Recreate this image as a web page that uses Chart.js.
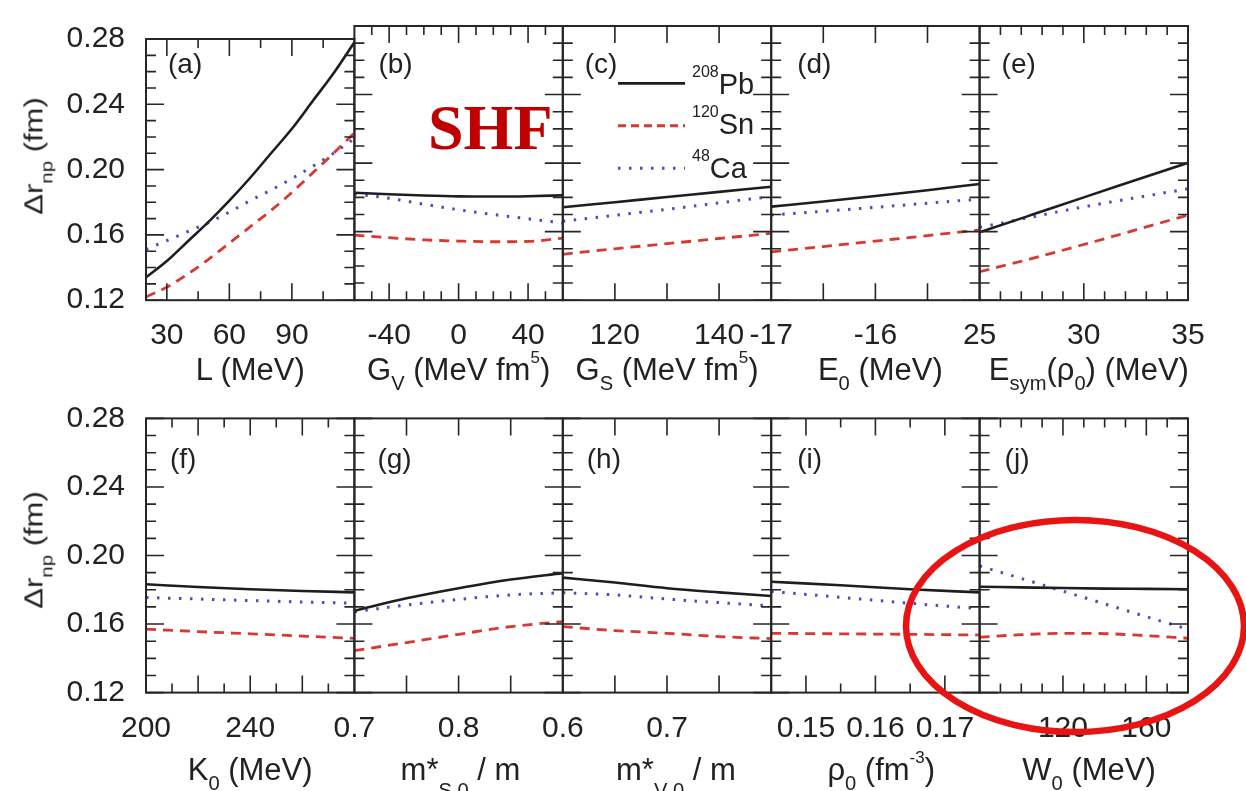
<!DOCTYPE html>
<html>
<head>
<meta charset="utf-8">
<script src="https://cdn.jsdelivr.net/npm/chart.js@4.4.1/dist/chart.umd.min.js"></script>
<style>
body { margin: 0; background: #fff; }
#wrap { position: relative; width: 1246px; height: 791px; overflow: hidden; font-family: "Liberation Sans", Arial, sans-serif; color: #222; }
canvas { position: absolute; left: 0; top: 0; }
.t { position: absolute; white-space: nowrap; font-size: 31px; line-height: 31px; }
.sb { position: relative; top: 0.5em; font-size: 0.65em; }
.sb2 { position: relative; top: 0.85em; font-size: 0.65em; }
.sp { position: relative; top: -1em; font-size: 0.55em; }
.lt { position: absolute; left: 146px; white-space: nowrap; font-size: 28px; line-height: 28px; }
.leg { position: absolute; left: 692px; white-space: nowrap; font-size: 29px; line-height: 29px; }
.leg span { position: relative; top: -17px; font-size: 16px; }
#shf { position: absolute; left: 428px; top: 96px; font-family: "Liberation Serif", "Times New Roman", serif; font-weight: bold; font-size: 64px; line-height: 64px; color: #c00000; }
.yt { position: absolute; white-space: nowrap; font-size: 31px; line-height: 32px; transform: translate(-50%, -50%) rotate(-90deg) scaleY(0.85); }
.yt span { position: relative; top: 0.6em; font-size: 0.66em; }
</style>
</head>
<body>
<div id="wrap">
  <div class="yt" style="left:35px; top:156px;">Δr<span>np</span>&nbsp;(fm)</div>
  <div class="yt" style="left:35px; top:550px;">Δr<span>np</span>&nbsp;(fm)</div>
  <div id="shf">SHF</div>
  <div class="leg" style="top:70px;"><span>208</span>Pb</div>
  <div class="leg" style="top:110px;"><span>120</span>Sn</div>
  <div class="leg" style="top:154px;"><span>48</span>Ca</div>
  <svg width="1246" height="791" style="position:absolute;left:0;top:0;z-index:5;">
    <line x1="618" y1="83.3" x2="685" y2="83.3" stroke="#1e1e1e" stroke-width="2.8"/>
    <line x1="618" y1="125.7" x2="685" y2="125.7" stroke="#d8392f" stroke-width="2.9" stroke-dasharray="8 5"/>
    <line x1="618" y1="168.3" x2="685" y2="168.3" stroke="#4a4fb5" stroke-width="3" stroke-dasharray="2.5 8.5"/>
    <ellipse cx="1075" cy="626" rx="169" ry="106" fill="none" stroke="#e81414" stroke-width="6.5"/>
  </svg>
</div>
<script>
// y axis, same for every panel
const yMin = 0.12, yMax = 0.28;
const yLabels = [0.12, 0.16, 0.20, 0.24, 0.28];
const yMinor = [0.13, 0.14, 0.15, 0.17, 0.18, 0.19, 0.21, 0.22, 0.23, 0.25, 0.26, 0.27];

// (a) L
const xA = [20, 30, 40, 50, 60, 70, 80, 90, 100, 110, 120];
const pbA = [0.134, 0.144, 0.156, 0.168, 0.181, 0.195, 0.210, 0.225, 0.242, 0.259, 0.278];
const snA = [0.122, 0.128, 0.136, 0.145, 0.155, 0.165, 0.175, 0.186, 0.198, 0.210, 0.2225];
const caA = [0.151, 0.1565, 0.162, 0.1675, 0.174, 0.181, 0.1875, 0.1945, 0.202, 0.210, 0.219];
// (b) G_V
const xB = [-60, -40, -20, 0, 20, 40, 60];
const pbB = [0.1827, 0.1818, 0.1811, 0.1806, 0.1805, 0.1807, 0.1812];
const snB = [0.158, 0.1565, 0.1552, 0.1545, 0.1541, 0.1543, 0.1562];
const caB = [0.182, 0.1795, 0.176, 0.1728, 0.170, 0.1675, 0.165];
// (c) G_S
const xC = [110, 120, 130, 140, 150];
const pbC = [0.1742, 0.1772, 0.1802, 0.1832, 0.1862];
const snC = [0.1468, 0.150, 0.153, 0.156, 0.159];
const caC = [0.166, 0.1695, 0.173, 0.1768, 0.1805];
// (d) E0
const xD = [-17, -16.5, -16, -15.5, -15];
const pbD = [0.1746, 0.1776, 0.1808, 0.1842, 0.1878];
const snD = [0.1482, 0.1513, 0.1545, 0.1577, 0.161];
const caD = [0.1697, 0.1719, 0.1742, 0.1766, 0.179];
// (e) Esym
const xE = [25, 27.5, 30, 32.5, 35];
const pbE = [0.1596, 0.1698, 0.180, 0.1901, 0.2002];
const snE = [0.1366, 0.1443, 0.1525, 0.161, 0.1697];
const caE = [0.1625, 0.1685, 0.1745, 0.1798, 0.185];
// (f) K0
const xF = [200, 220, 240, 260, 280];
const pbF = [0.1832, 0.1816, 0.1803, 0.1793, 0.1785];
const snF = [0.157, 0.1556, 0.1543, 0.1530, 0.1517];
const caF = [0.1755, 0.1746, 0.1737, 0.1729, 0.1722];
// (g) m*S0/m
const xG = [0.7, 0.75, 0.8, 0.85, 0.9];
const pbG = [0.1678, 0.175, 0.1809, 0.1860, 0.1897];
const snG = [0.1445, 0.1492, 0.154, 0.1585, 0.1614];
const caG = [0.1672, 0.1711, 0.1744, 0.1770, 0.1783];
// (h) m*V0/m
const xH = [0.6, 0.65, 0.7, 0.75, 0.8];
const pbH = [0.1871, 0.1842, 0.1809, 0.1785, 0.1764];
const snH = [0.1585, 0.1562, 0.1546, 0.1527, 0.1515];
const caH = [0.1783, 0.177, 0.1746, 0.1725, 0.1706];
// (i) rho0
const xI = [0.145, 0.155, 0.165, 0.175];
const pbI = [0.1847, 0.1826, 0.1803, 0.1785];
const snI = [0.1546, 0.1543, 0.154, 0.1536];
const caI = [0.179, 0.1756, 0.1721, 0.169];
// (j) W0
const xJ = [80, 100, 120, 140, 160, 180];
const pbJ = [0.1818, 0.1814, 0.1810, 0.1807, 0.1805, 0.1803];
const snJ = [0.1523, 0.1538, 0.1546, 0.1544, 0.1532, 0.1517];
const caJ = [0.1939, 0.1866, 0.1792, 0.1718, 0.1643, 0.157];

// x tick labels and tick marks
const labA = [30, 60, 90], majA = [30, 60, 90], minA = [45, 75, 105];
const labB = [-40, 0, 40], majB = [-40, 0, 40], minB = [-50, -30, -20, -10, 10, 20, 30, 50];
const labC = [120, 140], majC = [120, 130, 140], minC = [];
const labD = [-17, -16], majD = [-16.5, -16, -15.5], minD = [];
const labE = [25, 30, 35], majE = [30], minE = [26, 27, 28, 29, 31, 32, 33, 34];
const labF = [200, 240], majF = [220, 240, 260], minF = [210, 230, 250, 270];
const labG = [0.7, 0.8], majG = [0.75, 0.8, 0.85], minG = [];
const labH = [0.6, 0.7], majH = [0.65, 0.7, 0.75], minH = [];
const labI = [0.15, 0.16, 0.17], majI = [0.15, 0.16, 0.17], minI = [0.155, 0.165];
const labJ = [120, 160], majJ = [120, 160], minJ = [90, 100, 110, 130, 140, 150, 170];

const titles = [
  'L (MeV)', 'G<span class="sb">V</span> (MeV fm<span class="sp">5</span>)',
  'G<span class="sb">S</span> (MeV fm<span class="sp">5</span>)', 'E<span class="sb">0</span> (MeV)',
  'E<span class="sb">sym</span>(ρ<span class="sb">0</span>) (MeV)',
  'K<span class="sb">0</span> (MeV)', 'm*<span class="sb2">S 0</span> / m', 'm*<span class="sb2">V 0</span> / m',
  'ρ<span class="sb">0</span> (fm<span class="sp">-3</span>)', 'W<span class="sb">0</span> (MeV)'
];
const letters = ['(a)', '(b)', '(c)', '(d)', '(e)', '(f)', '(g)', '(h)', '(i)', '(j)'];

const panels = [
  { x: xA, pb: pbA, sn: snA, ca: caA, min: 20, max: 120, lab: labA, maj: majA, mn: minA },
  { x: xB, pb: pbB, sn: snB, ca: caB, min: -60, max: 60, lab: labB, maj: majB, mn: minB },
  { x: xC, pb: pbC, sn: snC, ca: caC, min: 110, max: 150, lab: labC, maj: majC, mn: minC },
  { x: xD, pb: pbD, sn: snD, ca: caD, min: -17, max: -15, lab: labD, maj: majD, mn: minD },
  { x: xE, pb: pbE, sn: snE, ca: caE, min: 25, max: 35, lab: labE, maj: majE, mn: minE },
  { x: xF, pb: pbF, sn: snF, ca: caF, min: 200, max: 280, lab: labF, maj: majF, mn: minF },
  { x: xG, pb: pbG, sn: snG, ca: caG, min: 0.7, max: 0.9, lab: labG, maj: majG, mn: minG },
  { x: xH, pb: pbH, sn: snH, ca: caH, min: 0.6, max: 0.8, lab: labH, maj: majH, mn: minH },
  { x: xI, pb: pbI, sn: snI, ca: caI, min: 0.145, max: 0.175, lab: labI, maj: majI, mn: minI },
  { x: xJ, pb: pbJ, sn: snJ, ca: caJ, min: 80, max: 180, lab: labJ, maj: majJ, mn: minJ }
];

// page layout
const W = 1246, H = 791;
const PW = 208.4, PH = 274.2;
const colLeft = [146, 354.4, 562.8, 771.2, 979.6];
const rowTop = [26, 418.4];
const titleBase = [380, 780], letterBase = [74, 469];
const titleShift = [0, 0, 0, 5, 5, 0, 2, 9, 6, 5];
const letterShift = [22, 24, 22, 26, 22, 24, 23, 24, 26, 25];
const FONT = "'Liberation Sans', Arial, sans-serif";

// inward ticks on all four sides, plus the frame
const framePlugin = {
  id: 'frame',
  afterDraw(chart, args, o) {
    const { ctx, chartArea: a, scales } = chart;
    const sx = scales.x, sy = scales.y;
    ctx.save();
    ctx.strokeStyle = '#262626';
    ctx.lineWidth = 1.6;
    ctx.beginPath();
    const xt = (vals, len) => vals.forEach(v => {
      const px = sx.getPixelForValue(v);
      ctx.moveTo(px, a.bottom); ctx.lineTo(px, a.bottom - len);
      ctx.moveTo(px, a.top); ctx.lineTo(px, a.top + len);
    });
    const yt = (vals, len) => vals.forEach(v => {
      const py = sy.getPixelForValue(v);
      ctx.moveTo(a.left, py); ctx.lineTo(a.left + len, py);
      ctx.moveTo(a.right, py); ctx.lineTo(a.right - len, py);
    });
    xt(o.maj, 17); xt(o.mn, 9);
    yt(yLabels, 18); yt(yMinor, 10);
    ctx.stroke();
    ctx.lineWidth = 2;
    ctx.strokeRect(a.left, a.top, a.right - a.left, a.bottom - a.top);
    ctx.restore();
  }
};

const wrap = document.getElementById('wrap');

panels.forEach((p, i) => {
  const row = Math.floor(i / 5), col = i % 5;
  const left = colLeft[col], top = rowTop[row];
  const right = left + PW, bottom = top + PH;
  const yW = col === 0 ? 110 : 0, xH = 60;
  const cv = document.createElement('canvas');
  cv.width = W; cv.height = H;
  wrap.insertBefore(cv, wrap.firstChild);

  const pts = ys => p.x.map((v, k) => ({ x: v, y: ys[k] }));
  new Chart(cv, {
    type: 'line',
    data: {
      datasets: [
        { label: '208Pb', data: pts(p.pb), borderColor: '#1e1e1e', borderWidth: 2.6 },
        { label: '120Sn', data: pts(p.sn), borderColor: '#d8392f', borderWidth: 2.8, borderDash: [10, 7] },
        { label: '48Ca', data: pts(p.ca), borderColor: '#4a4fb5', borderWidth: 3, borderDash: [2.5, 8.5] }
      ]
    },
    options: {
      responsive: false,
      animation: false,
      events: [],
      layout: { padding: { left: left - yW, right: W - right, top: top, bottom: H - bottom - xH } },
      elements: { point: { radius: 0 }, line: { cubicInterpolationMode: 'monotone', fill: false } },
      plugins: { legend: { display: false }, tooltip: { enabled: false }, frame: { maj: p.maj, mn: p.mn } },
      scales: {
        x: {
          type: 'linear', min: p.min, max: p.max,
          grid: { display: false, drawTicks: false },
          border: { display: false },
          afterBuildTicks: s => { s.ticks = p.lab.map(v => ({ value: v })); },
          afterFit: s => { s.height = xH; },
          ticks: { autoSkip: false, maxRotation: 0, padding: 18, color: '#222',
                   font: { family: FONT, size: 30 }, callback: (v, k) => String(p.lab[k]) }
        },
        y: {
          type: 'linear', min: yMin, max: yMax, display: col === 0,
          grid: { display: false, drawTicks: false },
          border: { display: false },
          afterBuildTicks: s => { s.ticks = yLabels.map(v => ({ value: v })); },
          afterFit: s => { s.width = yW; },
          ticks: { padding: 21, color: '#222', font: { family: FONT, size: 30 },
                   callback: v => v.toFixed(2) }
        }
      }
    },
    plugins: [framePlugin]
  });

  const t = document.createElement('div');
  t.className = 't';
  t.innerHTML = titles[i];
  t.style.top = (titleBase[row] - 26.2) + 'px';
  wrap.appendChild(t);
  t.style.left = (left + PW / 2 + titleShift[i] - t.offsetWidth / 2) + 'px';

  const l = document.createElement('div');
  l.className = 'lt';
  l.textContent = letters[i];
  l.style.left = (left + letterShift[i]) + 'px';
  l.style.top = (letterBase[row] - 23.7) + 'px';
  wrap.appendChild(l);
});
</script>
</body>
</html>
